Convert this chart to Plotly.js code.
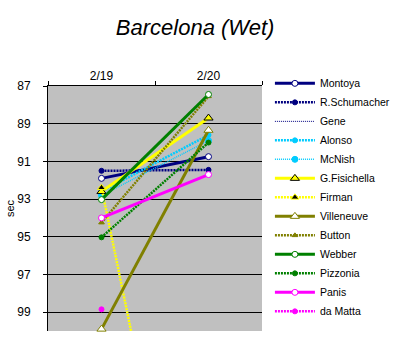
<!DOCTYPE html>
<html>
<head>
<meta charset="utf-8">
<script src="https://cdn.plot.ly/plotly-3.0.1.min.js"></script>
<style>html,body{margin:0;padding:0;background:#fff;}#chart{width:395px;height:345px;}</style>
</head>
<body>
<div id="chart"></div>
<script>
const dates = ["2/19", "2/20"];
const drivers = ["Montoya","R.Schumacher","Gene","Alonso","McNish","G.Fisichella","Firman","Villeneuve","Button","Webber","Pizzonia","Panis","da Matta"];
const montoya      = [91.9, 90.75];
const schumacher   = [91.5, 91.45];
const gene         = [null, null];
const alonso       = [92.6, 89.6];
const mcnish       = [92.8, 89.9];
const fisichella   = [92.6, 88.7];
const firman       = [92.4, 119.9];
const villeneuve   = [99.9, 89.35];
const button       = [94.25, 87.55];
const webber       = [93.03, 87.45];
const pizzonia     = [95.03, 90.0];
const panis        = [94.0, 91.7];
const damatta      = [98.85, null];
const yTicks       = [87, 89, 91, 93, 95, 97, 99];

const navy = '#000080', cyan = '#00ccff', yellow = '#ffff00', olive = '#808000', green = '#008000', magenta = '#ff00ff';

function tr(name, y, color, dash, width, msym, mcolor, mline, msize, clip) {
  return {
    type: 'scatter', mode: msym ? 'lines+markers' : 'lines', name: name, x: dates, y: y,
    line: {color: color, dash: dash, width: width},
    marker: {symbol: msym || 'circle', color: mcolor, size: msize, line: {color: mline, width: 1}},
    cliponaxis: clip, connectgaps: false
  };
}

const data = [
  tr(drivers[0], montoya, navy, 'solid', 3, 'circle', '#ffffff', navy, 6, false),
  tr(drivers[1], schumacher, navy, '2px,1px', 2.5, 'circle', navy, navy, 5, false),
  tr(drivers[2], gene, navy, '1px,1px', 1, null, navy, navy, 4, false),
  tr(drivers[3], alonso, cyan, '2px,1px', 2.5, 'circle', cyan, cyan, 5, false),
  tr(drivers[4], mcnish, cyan, '1px,1px', 1.5, 'circle', cyan, cyan, 6, false),
  tr(drivers[5], fisichella, yellow, 'solid', 3, 'triangle-up', yellow, '#000000', 8, false),
  tr(drivers[6], firman, yellow, '2px,1px', 2.5, 'triangle-up', '#000000', yellow, 7, true),
  tr(drivers[7], villeneuve, olive, 'solid', 3, 'triangle-up', '#ffffff', olive, 8, false),
  tr(drivers[8], button, olive, '2px,1px', 2.5, 'triangle-up', olive, olive, 5, false),
  tr(drivers[9], webber, green, 'solid', 3, 'circle', '#ffffff', green, 6, false),
  tr(drivers[10], pizzonia, green, '2px,1px', 2.5, 'circle', green, green, 5, false),
  tr(drivers[11], panis, magenta, 'solid', 3, 'circle', '#ffffff', magenta, 6, false),
  tr(drivers[12], damatta, magenta, '2px,1px', 2.5, 'circle', magenta, magenta, 5, false)
];

const layout = {
  width: 395, height: 345,
  margin: {l: 48, r: 133, t: 86, b: 14, pad: 0, autoexpand: false},
  paper_bgcolor: '#ffffff', plot_bgcolor: '#c0c0c0',
  font: {family: '"Liberation Sans", Arial, sans-serif', size: 11, color: '#000'},
  title: {text: '<i>Barcelona (Wet)</i>', x: 0.494, xanchor: 'center', y: 0.92, yanchor: 'middle',
          font: {size: 22, color: '#000', family: '"Liberation Sans", Arial, sans-serif'}},
  showlegend: true,
  legend: {x: 1.037, xanchor: 'left', y: 1.07, yanchor: 'top', bgcolor: 'rgba(0,0,0,0)',
           font: {size: 10.5}, itemwidth: 40, traceorder: 'normal', maxheight: 340},
  xaxis: {type: 'category', side: 'top', range: [-0.5, 1.5], showgrid: false, zeroline: false,
          showline: true, linecolor: '#000', linewidth: 1, ticks: 'outside', tickson: 'boundaries',
          ticklen: 4, tickcolor: '#000', tickfont: {size: 12}, fixedrange: true},
  yaxis: {range: [100, 87], tickvals: yTicks, ticktext: yTicks.map(String), showgrid: true,
          gridcolor: '#000', gridwidth: 1, zeroline: false, showline: true, linecolor: '#000',
          linewidth: 1, ticks: 'outside', ticklen: 4, tickcolor: '#000', ticklabelstandoff: 10,
          tickfont: {size: 12}, title: {text: 'sec', font: {size: 11}, standoff: 0}, fixedrange: true}
};

Plotly.newPlot('chart', data, layout, {displayModeBar: false, staticPlot: true});
</script>
</body>
</html>
